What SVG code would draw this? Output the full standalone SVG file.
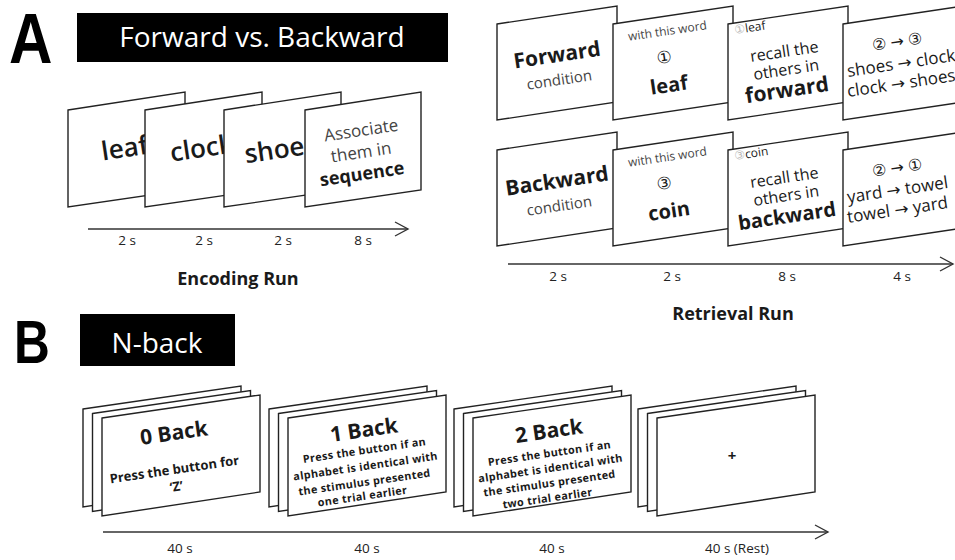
<svg xmlns="http://www.w3.org/2000/svg" width="955" height="560" viewBox="0 0 955 560">
<defs>
<style>
text{font-family:"Open Sans","DejaVu Sans","Noto Sans CJK JP",sans-serif;fill:#1a1a1a}
.card{fill:#fff;stroke:#222;stroke-width:1.4;stroke-linejoin:miter}
.ax{fill:none;stroke:#333;stroke-width:1.4}
.hdr{fill:#000}
.ht{fill:#fff;font-size:28px;text-anchor:middle}
.lbl{font-size:13.5px;text-anchor:middle;fill:#222}
.run{font-size:18px;font-weight:bold;text-anchor:middle}
.m{text-anchor:middle}
.b{font-weight:bold}
.sb{font-weight:600}
.g{fill:#444}
.lg{fill:#bbb}
.nt{font-size:10.8px;font-weight:bold;letter-spacing:0.35px;text-anchor:middle}
.nh{font-size:21px;font-weight:bold;text-anchor:middle}
</style>
<marker id="chev" markerUnits="userSpaceOnUse" markerWidth="16" markerHeight="16" refX="14" refY="8" orient="auto">
<path d="M1,1 L14,8 L1,15" fill="none" stroke="#333" stroke-width="1.4"/>
</marker>
<path id="tp_e1" d="M27,171.8 L225,142.2"/>
<path id="tp_e2" d="M104,171.8 L302,142.2"/>
<path id="tp_e3" d="M183,172.8 L381,143.2"/>
<path id="tp_e4a" d="M263,150.8 L461,121.2"/>
<path id="tp_e4b" d="M263,172.8 L461,143.2"/>
<path id="tp_e4c" d="M264,194.8 L462,165.2"/>
<path id="tp_f1a" d="M459,76.8 L657,47.2"/>
<path id="tp_f1b" d="M461,99.8 L659,70.2"/>
<path id="tp_f2a" d="M569,49.8 L767,20.2"/>
<path id="tp_f2b" d="M566,77.8 L764,48.2"/>
<path id="tp_f2c" d="M571,106.8 L769,77.2"/>
<path id="tp_f3a" d="M735,34 L933,4.4"/>
<path id="tp_f3b" d="M686,71.8 L884,42.2"/>
<path id="tp_f3c" d="M688,89.8 L886,60.2"/>
<path id="tp_f3d" d="M689,111.8 L887,82.2"/>
<path id="tp_f4a" d="M799,61.8 L997,32.2"/>
<path id="tp_f4b" d="M848,77 L1046,47.4"/>
<path id="tp_f4c" d="M848,97 L1046,67.4"/>
<path id="tp_b1a" d="M459,202.8 L657,173.2"/>
<path id="tp_b1b" d="M461,225.8 L659,196.2"/>
<path id="tp_b2a" d="M569,175.8 L767,146.2"/>
<path id="tp_b2b" d="M566,203.8 L764,174.2"/>
<path id="tp_b2c" d="M571,232.8 L769,203.2"/>
<path id="tp_b3a" d="M735,160 L933,130.4"/>
<path id="tp_b3b" d="M686,197.8 L884,168.2"/>
<path id="tp_b3c" d="M688,215.8 L886,186.2"/>
<path id="tp_b3d" d="M689,237.8 L887,208.2"/>
<path id="tp_b4a" d="M799,187.8 L997,158.2"/>
<path id="tp_b4b" d="M848,203 L1046,173.4"/>
<path id="tp_b4c" d="M848,223 L1046,193.4"/>
<path id="tp_n0a" d="M76,454.4 L274,425.6"/>
<path id="tp_n0b" d="M76,488.4 L274,459.6"/>
<path id="tp_n0c" d="M78,505.4 L276,476.6"/>
<path id="tp_n1a" d="M266,451.4 L464,422.6"/>
<path id="tp_n1b" d="M266,468.4 L464,439.6"/>
<path id="tp_n1c" d="M267,484.4 L465,455.6"/>
<path id="tp_n1d" d="M266,500.4 L464,471.6"/>
<path id="tp_n1e" d="M264,514.4 L462,485.6"/>
<path id="tp_n2a" d="M451,452.4 L649,423.6"/>
<path id="tp_n2b" d="M451,471.4 L649,442.6"/>
<path id="tp_n2c" d="M452,486.4 L650,457.6"/>
<path id="tp_n2d" d="M451,501.4 L649,472.6"/>
<path id="tp_n2e" d="M449,516.4 L647,487.6"/>
</defs>

<!-- Headers -->
<g id="labelA"><text x="0" y="0" transform="translate(9,63) scale(0.86,1)" style="font-family:'Liberation Sans',sans-serif;font-size:70px;font-weight:bold;fill:#000">A</text></g>
<g id="headerA"><rect class="hdr" x="77" y="13" width="371" height="49"/><text class="ht" x="262" y="47">Forward vs. Backward</text></g>
<g id="labelB"><text x="0" y="0" transform="translate(14,363) scale(0.8,1)" style="font-family:'Liberation Sans',sans-serif;font-size:62px;font-weight:bold;fill:#000">B</text></g>
<g id="headerB"><rect class="hdr" x="80" y="314" width="155" height="52"/><text class="ht" x="157" y="353">N-back</text></g>

<!-- Encoding run cards -->
<g id="enc1"><polygon class="card" points="68,110 185,92 185,190 68,207"/><text class="m sb" font-size="26"><textPath href="#tp_e1" startOffset="50%">leaf</textPath></text></g>
<g id="enc2"><polygon class="card" points="145,110 262,92 262,190 145,207"/><text class="m sb" font-size="26"><textPath href="#tp_e2" startOffset="50%">clock</textPath></text></g>
<g id="enc3"><polygon class="card" points="224,110 341,92 341,190 224,207"/><text class="m sb" font-size="26"><textPath href="#tp_e3" startOffset="50%">shoes</textPath></text></g>
<g id="enc4"><polygon class="card" points="305,110 421,92 421,190 305,207"/>
<text class="m g" font-size="17"><textPath href="#tp_e4a" startOffset="50%">Associate</textPath></text>
<text class="m g" font-size="17"><textPath href="#tp_e4b" startOffset="50%">them in</textPath></text>
<text class="m b" font-size="18"><textPath href="#tp_e4c" startOffset="50%">sequence</textPath></text>
</g>
<g id="encLabels">
<text class="lbl" x="127" y="245">2 s</text><text class="lbl" x="204" y="245">2 s</text><text class="lbl" x="283" y="245">2 s</text><text class="lbl" x="363" y="245">8 s</text>
<text class="run" x="238" y="285">Encoding Run</text>
</g>

<!-- Retrieval row 1 -->
<g id="fwd1"><polygon class="card" points="497,24 617,6 617,102 497,120"/>
<text class="m b" font-size="21"><textPath href="#tp_f1a" startOffset="50%">Forward</textPath></text>
<text class="m g" font-size="15"><textPath href="#tp_f1b" startOffset="50%">condition</textPath></text></g>
<g id="fwd2"><polygon class="card" points="613,24 733,6 733,102 613,120"/>
<text class="m g" font-size="12"><textPath href="#tp_f2a" startOffset="50%">with this word</textPath></text>
<text class="m" font-size="17"><textPath href="#tp_f2b" startOffset="50%">①</textPath></text>
<text class="m b" font-size="20"><textPath href="#tp_f2c" startOffset="50%">leaf</textPath></text></g>
<g id="fwd3"><polygon class="card" points="728,24 848,6 848,102 728,120"/>
<text font-size="12"><textPath href="#tp_f3a"><tspan class="lg">①</tspan>leaf</textPath></text>
<text class="m" font-size="16"><textPath href="#tp_f3b" startOffset="50%">recall the</textPath></text>
<text class="m" font-size="16"><textPath href="#tp_f3c" startOffset="50%">others in</textPath></text>
<text class="m b" font-size="21"><textPath href="#tp_f3d" startOffset="50%">forward</textPath></text></g>
<g id="fwd4"><polygon class="card" points="843,24 963,6 963,102 843,120"/>
<text class="m" font-size="16"><textPath href="#tp_f4a" startOffset="50%">②  →  ③</textPath></text>
<text font-size="17"><textPath href="#tp_f4b">shoes → clock</textPath></text>
<text font-size="17"><textPath href="#tp_f4c">clock → shoes</textPath></text></g>

<!-- Retrieval row 2 -->
<g id="bwd1"><polygon class="card" points="497,150 617,132 617,228 497,246"/>
<text class="m b" font-size="21"><textPath href="#tp_b1a" startOffset="50%">Backward</textPath></text>
<text class="m g" font-size="15"><textPath href="#tp_b1b" startOffset="50%">condition</textPath></text></g>
<g id="bwd2"><polygon class="card" points="613,150 733,132 733,228 613,246"/>
<text class="m g" font-size="12"><textPath href="#tp_b2a" startOffset="50%">with this word</textPath></text>
<text class="m" font-size="17"><textPath href="#tp_b2b" startOffset="50%">③</textPath></text>
<text class="m b" font-size="20"><textPath href="#tp_b2c" startOffset="50%">coin</textPath></text></g>
<g id="bwd3"><polygon class="card" points="728,150 848,132 848,228 728,246"/>
<text font-size="12"><textPath href="#tp_b3a"><tspan class="lg">③</tspan>coin</textPath></text>
<text class="m" font-size="16"><textPath href="#tp_b3b" startOffset="50%">recall the</textPath></text>
<text class="m" font-size="16"><textPath href="#tp_b3c" startOffset="50%">others in</textPath></text>
<text class="m b" font-size="20"><textPath href="#tp_b3d" startOffset="50%">backward</textPath></text></g>
<g id="bwd4"><polygon class="card" points="843,150 963,132 963,228 843,246"/>
<text class="m" font-size="16"><textPath href="#tp_b4a" startOffset="50%">②  →  ①</textPath></text>
<text font-size="17"><textPath href="#tp_b4b">yard → towel</textPath></text>
<text font-size="17"><textPath href="#tp_b4c">towel → yard</textPath></text></g>
<g id="retLabels">
<text class="lbl" x="558" y="281">2 s</text><text class="lbl" x="672" y="281">2 s</text><text class="lbl" x="787" y="281">8 s</text><text class="lbl" x="902" y="281">4 s</text>
<text class="run" x="733" y="320">Retrieval Run</text>
</g>

<!-- N-back stacks -->
<g id="nb0">
<polygon class="card" points="83,409 241,386 241,483 83,507"/>
<polygon class="card" points="92.5,413.5 250.5,390.5 250.5,487.5 92.5,511.5"/>
<polygon class="card" points="102,418 260,395 260,492 102,516"/>
<text class="nh"><textPath href="#tp_n0a" startOffset="50%">0 Back</textPath></text>
<text class="m b" font-size="13"><textPath href="#tp_n0b" startOffset="50%">Press the button for</textPath></text>
<text class="m b" font-size="13"><textPath href="#tp_n0c" startOffset="50%">‘Z’</textPath></text>
</g>
<g id="nb1">
<polygon class="card" points="269,409 427,386 427,483 269,507"/>
<polygon class="card" points="278.5,413.5 436.5,390.5 436.5,487.5 278.5,511.5"/>
<polygon class="card" points="288,418 446,395 446,492 288,516"/>
<text class="nh"><textPath href="#tp_n1a" startOffset="50%">1 Back</textPath></text>
<text class="nt"><textPath href="#tp_n1b" startOffset="50%">Press the button if an</textPath></text>
<text class="nt"><textPath href="#tp_n1c" startOffset="50%">alphabet is identical with</textPath></text>
<text class="nt"><textPath href="#tp_n1d" startOffset="50%">the stimulus presented</textPath></text>
<text class="nt"><textPath href="#tp_n1e" startOffset="50%">one trial earlier</textPath></text>
</g>
<g id="nb2">
<polygon class="card" points="454,409 612,386 612,483 454,507"/>
<polygon class="card" points="463.5,413.5 621.5,390.5 621.5,487.5 463.5,511.5"/>
<polygon class="card" points="473,418 631,395 631,492 473,516"/>
<text class="nh"><textPath href="#tp_n2a" startOffset="50%">2 Back</textPath></text>
<text class="nt"><textPath href="#tp_n2b" startOffset="50%">Press the button if an</textPath></text>
<text class="nt"><textPath href="#tp_n2c" startOffset="50%">alphabet is identical with</textPath></text>
<text class="nt"><textPath href="#tp_n2d" startOffset="50%">the stimulus presented</textPath></text>
<text class="nt"><textPath href="#tp_n2e" startOffset="50%">two trial earlier</textPath></text>
</g>
<g id="nbRest">
<polygon class="card" points="638,409 796,386 796,483 638,507"/>
<polygon class="card" points="647.5,413.5 805.5,390.5 805.5,487.5 647.5,511.5"/>
<polygon class="card" points="657,418 815,395 815,492 657,516"/>
<text class="m b" x="732" y="461" font-size="15">+</text>
</g>
<g id="nbLabels">
<text class="lbl" x="180" y="553">40 s</text><text class="lbl" x="367" y="553">40 s</text><text class="lbl" x="552" y="553">40 s</text><text class="lbl" x="737" y="553">40 s (Rest)</text>
</g>

<!-- Connectors (time axes) -->
<g id="connectors">
<line class="ax" x1="88" y1="229" x2="408" y2="229" marker-end="url(#chev)"/>
<line class="ax" x1="508" y1="264" x2="953" y2="264" marker-end="url(#chev)"/>
<line class="ax" x1="103" y1="532" x2="828" y2="532" marker-end="url(#chev)"/>
</g>
</svg>
